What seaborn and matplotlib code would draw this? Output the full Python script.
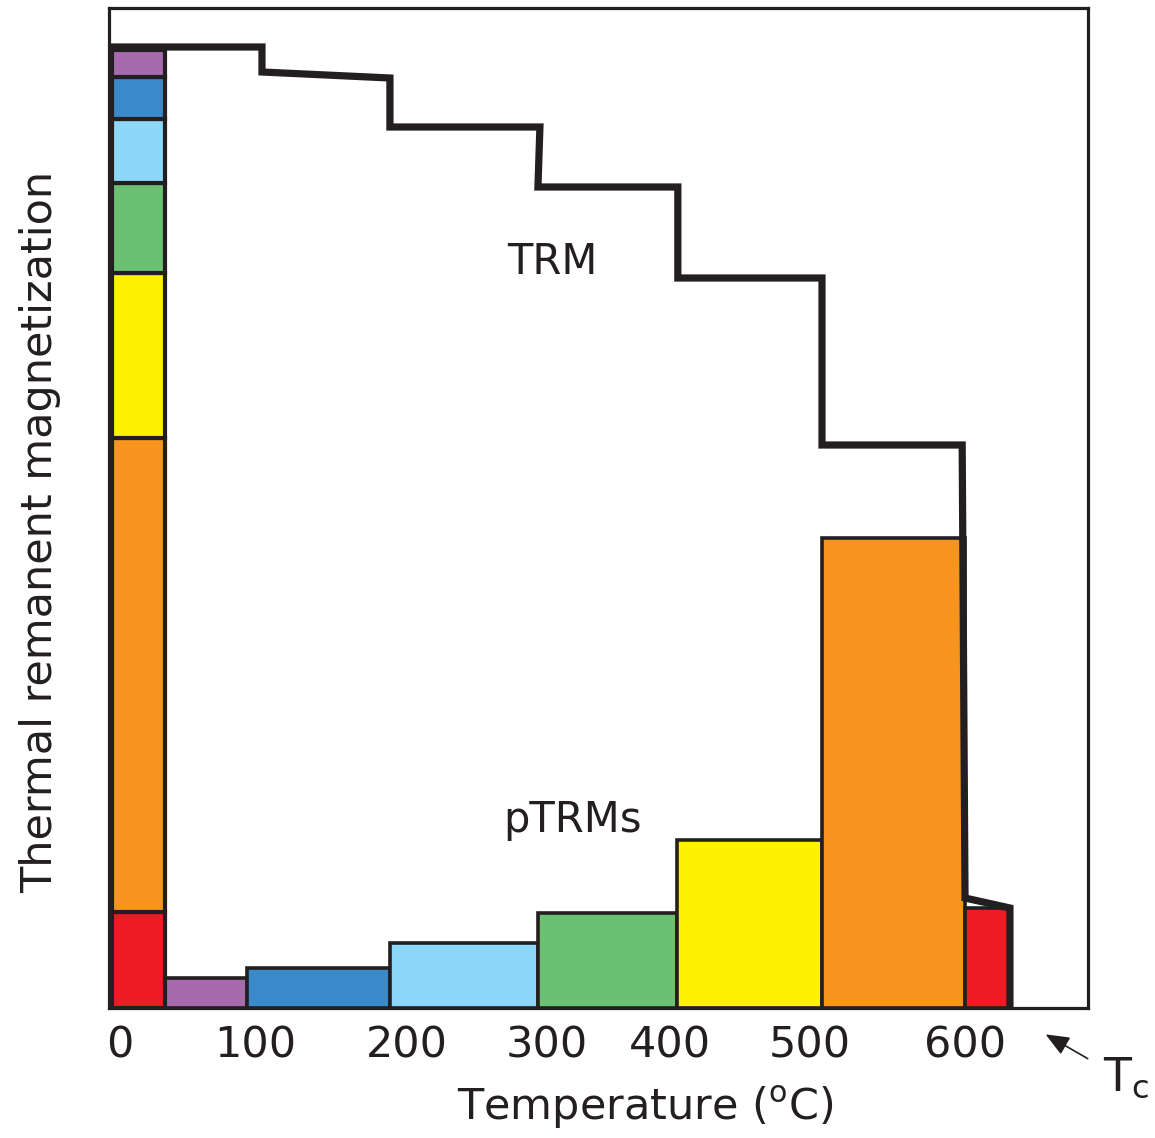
import numpy as np
import pandas as pd
import matplotlib
matplotlib.use("Agg")
import matplotlib.pyplot as plt
import seaborn as sns

# ---- data ----
bin_edges = [0, 37.3, 95, 195.5, 299.6, 397.4, 499.4, 600, 631.6]
ptrm_heights = [9.6, 3.0, 4.0, 6.5, 9.5, 16.8, 47.0, 10.0]
ptrm_colors = ["#ED1C24", "#A66BAD", "#3A89C9", "#8DD8F8", "#6CC072",
               "#FFF200", "#F7941E", "#ED1C24"]

# stacked column at the left (bottom -> top)
stack_bounds = [0, 9.6, 57.0, 73.5, 82.5, 88.9, 93.1, 95.8]
stack_colors = ["#ED1C24", "#F7941E", "#FFF200", "#6CC072", "#8DD8F8",
                "#3A89C9", "#A66BAD"]

# TRM step curve
trm_x = [0, 105.5, 105.5, 195.5, 195.5, 301, 299.6, 398, 398, 499.4,
         499.4, 598, 600, 631.6, 631.6]
trm_y = [96.1, 96.1, 93.6, 93.0, 88.1, 88.1, 82.1, 82.1, 73.0, 73.0,
         56.3, 56.3, 11.0, 10.0, 0]

tick_pos = [5.6, 100.6, 207.5, 306, 392.5, 491, 600]
tick_labels = ["0", "100", "200", "300", "400", "500", "600"]

EDGE = "#231F20"

sns.set_theme(style="white")
plt.rcParams["font.family"] = ["DejaVu Sans"]

W, H = 1155, 1138
fig = plt.figure(figsize=(W / 100, H / 100), dpi=100)
ax = fig.add_axes([109 / W, 130 / H, 979 / W, 1000 / H])

# pTRM bars (variable width) via seaborn histplot
mids = [(a + b) / 2 for a, b in zip(bin_edges[:-1], bin_edges[1:])]
df = pd.DataFrame({"T": mids[1:], "h": ptrm_heights[1:]})
sns.histplot(data=df, x="T", weights="h", bins=bin_edges[1:], ax=ax,
             stat="count", element="bars", fill=True, alpha=1,
             edgecolor=EDGE, linewidth=2.6, zorder=2)
for p, c in zip(ax.patches, ptrm_colors[1:]):
    p.set_facecolor(c)

# left stacked column
w0 = bin_edges[1] - bin_edges[0]
for lo, hi, c in zip(stack_bounds[:-1], stack_bounds[1:], stack_colors):
    ax.bar(bin_edges[0], hi - lo, bottom=lo, width=w0, align="edge",
           color=c, edgecolor=EDGE, linewidth=3.0, zorder=2)

# TRM line
trm_df = pd.DataFrame({"x": trm_x, "y": trm_y})
sns.lineplot(data=trm_df, x="x", y="y", sort=False, estimator=None,
             color=EDGE, linewidth=5.2, ax=ax, zorder=3)
ax.lines[-1].set_solid_joinstyle("miter")

ax.set_xlim(-2.1, 686.5)
ax.set_ylim(0, 100)
ax.set_xticks(tick_pos)
ax.set_xticklabels(tick_labels, fontsize=31, color=EDGE)
ax.set_yticks([])
ax.tick_params(axis="x", length=0, pad=12)
for s in ax.spines.values():
    s.set_visible(True)
    s.set_color(EDGE)
    s.set_linewidth(2.3)
ax.set_xlabel("")
ax.set_ylabel("")

fig.text(645 / W, 1 - 1108 / H, "Temperature (" + r"$^{\mathrm{o}}$" + "C)",
         fontsize=31, color=EDGE, ha="center", va="center")
fig.text(40 / W, 1 - 532 / H, "Thermal remanent magnetization",
         fontsize=31, color=EDGE, ha="center", va="center", rotation=90)

ax.text(310, 74.6, "TRM", fontsize=30, color=EDGE, ha="center", va="center")
ax.text(323.6, 18.8, "pTRMs", fontsize=30, color=EDGE, ha="center", va="center")

ax.annotate("", xy=(655, -2.5), xytext=(688, -5.2), xycoords="data",
            annotation_clip=False,
            arrowprops=dict(arrowstyle="-|>,head_length=1.2,head_width=0.5",
                            color=EDGE, lw=1.2))
ax.text(697, -7.0, r"T$_{\mathrm{c}}$", fontsize=33, color=EDGE,
        ha="left", va="center", clip_on=False)

fig.savefig("out.png", dpi=100)
